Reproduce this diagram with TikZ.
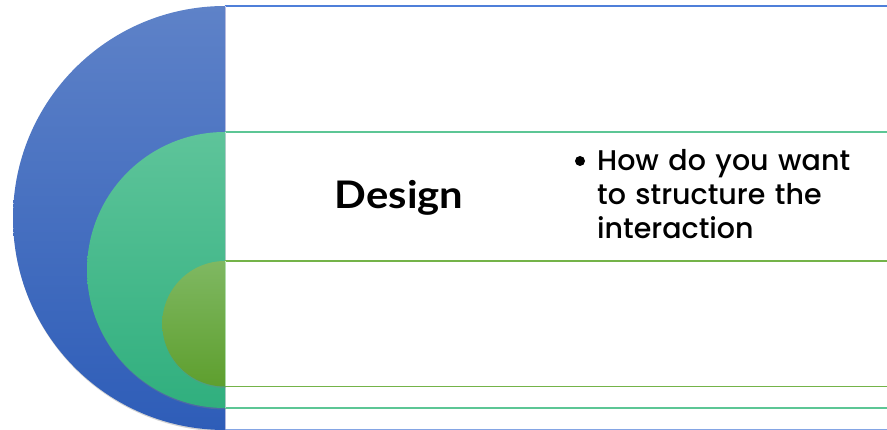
\documentclass[tikz,border=0pt]{standalone}
\usepackage{fontspec}
\setmainfont{Poppins}
\newfontfamily\designfont{Lato}
\newfontfamily\bulfont{Poppins Medium}
\usetikzlibrary{shadows}
\begin{document}
\begin{tikzpicture}[x=1pt,y=1pt,
  band/.style={line width=1.2pt},
  halfdisc/.style={drop shadow={opacity=0.35,shadow xshift=0.5pt,shadow yshift=-1.5pt}},
  bigtext/.style={font=\designfont\bfseries\fontsize{38}{44}\selectfont, inner sep=0pt},
  bultext/.style={font=\bulfont\fontsize{28.5}{34}\selectfont, inner sep=0pt, align=left, text width=300pt, anchor=north west},
  dot/.style={fill=black, circle, inner sep=0pt, minimum size=10pt}
]
\definecolor{blueA}{HTML}{5E82C8}
\definecolor{blueB}{HTML}{2E5DB8}
\definecolor{blueL}{HTML}{4F7FD9}
\definecolor{tealA}{HTML}{5EC49A}
\definecolor{tealB}{HTML}{30AF7E}
\definecolor{tealL}{HTML}{5CC695}
\definecolor{oliveA}{HTML}{7FB862}
\definecolor{oliveB}{HTML}{5E9F2E}
\definecolor{oliveL}{HTML}{74B349}
\useasboundingbox (0,0) rectangle (887,430);
% outer band
\coordinate (b1) at (225,424);
\coordinate (b2) at (225,0.5);
\draw[band,blueL] (b1) -- (887,424);
\draw[band,blueL!70] (b2) -- (887,0.5);
\draw[white!85!blue, line width=0.8pt] (b1) -- (b2);
\shade[halfdisc, top color=blueA, bottom color=blueB] (b1) arc[start angle=90,end angle=270,radius=212] -- cycle;
% middle band
\coordinate (t1) at (225,298);
\coordinate (t2) at (225,22);
\draw[band,tealL] (t1) -- (887,298);
\draw[band,tealL] (t2) -- (887,22);
\draw[white!80!teal, line width=0.8pt] (t1) -- (t2);
\shade[halfdisc, top color=tealA, bottom color=tealB] (t1) arc[start angle=90,end angle=270,radius=138] -- cycle;
% inner band
\coordinate (o1) at (225,169);
\coordinate (o2) at (225,43.5);
\draw[band,oliveL] (o1) -- (887,169);
\draw[band,oliveL] (o2) -- (887,43.5);
\draw[white!80!green, line width=0.8pt] (o1) -- (o2);
\shade[halfdisc, top color=oliveA, bottom color=oliveB] (o1) arc[start angle=90,end angle=270,radius=62.75] -- cycle;
% texts
\node[bigtext, anchor=base] (design) at (399,221) {\scalebox{1.1}[1]{Design}};
\node[dot] (bdot) at (580,269) {};
\node[bultext] (bullet) at (597,281) {How do you want\\to structure the\\interaction};
\end{tikzpicture}
\end{document}
